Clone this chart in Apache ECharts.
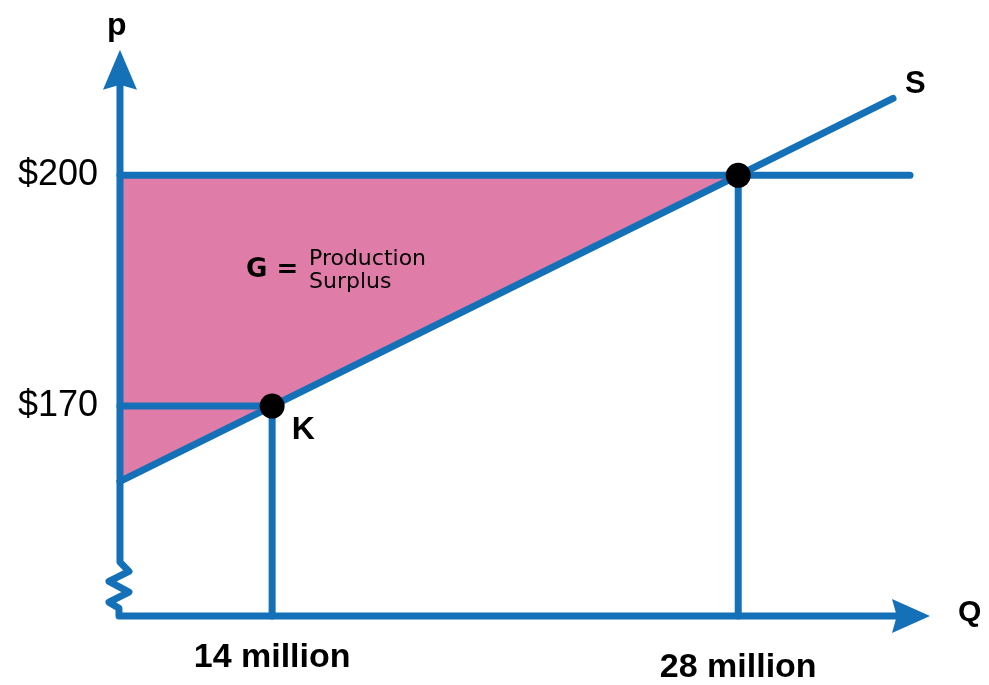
<!DOCTYPE html>
<html>
<head>
<meta charset="utf-8">
<script src="https://cdn.jsdelivr.net/npm/echarts@6/dist/echarts.min.js"></script>
<style>
  html, body { margin: 0; padding: 0; background: #fff; }
  #main { width: 989px; height: 685px; }
</style>
</head>
<body>
<div id="main"></div>
<script>
// axis ranges (Q in millions, p in dollars)
var qMin = 8.83, qMax = 33.76;
var pMin = 142.7, pMax = 216.3;

// tick labels
var qTickValues = [14, 28];
var qTickLabels = ['14 million', '28 million'];
var pTickValues = [170, 200];
var pTickLabels = ['$170', '$200'];

// supply curve S
var supplyQ = [9.43, 14, 28, 32.65];
var supplyP = [160.2, 170, 200, 210];

// producer surplus triangle G
var surplusQ = [9.43, 28, 9.43];
var surplusP = [200, 200, 160.2];

// price guide lines
var line200Q = [9.43, 33.16];
var line200P = [200, 200];
var line170Q = [9.43, 14];
var line170P = [170, 170];

// quantity drops
var drop14Q = [14, 14];
var drop14P = [170, 142.7];
var drop28Q = [28, 28];
var drop28P = [200, 142.7];

// marked points
var pointsQ = [14, 28];
var pointsP = [170, 200];
var pointNames = ['K', ''];

// axes drawn as one path with the break on p
var axisQ = [9.43, 9.43, 9.70, 9.10, 9.70, 9.10, 9.40, 9.40, 33.0];
var axisP = [213.0, 149.7, 148.5, 147.2, 145.8, 144.5, 143.7, 142.7, 142.7];

// arrow heads
var arrowQ = [9.43, 33.19];
var arrowP = [213.74, 142.7];
var arrowRotate = [0, -90];

var blue = '#1471b8';
var pink = '#e07ca8';

function pairs(xs, ys) {
    var out = [];
    for (var i = 0; i < xs.length; i++) out.push([xs[i], ys[i]]);
    return out;
}

function guide(xs, ys) {
    return {
        type: 'line',
        data: pairs(xs, ys),
        showSymbol: false,
        symbol: 'none',
        silent: true,
        clip: false,
        z: 3,
        lineStyle: { color: blue, width: 7, cap: 'round' }
    };
}

var chart = echarts.init(document.getElementById('main'), null, { renderer: 'canvas' });

var option = {
    animation: false,
    backgroundColor: '#fff',
    grid: { left: 100, right: 59, top: 50, bottom: 68 },
    xAxis: {
        type: 'value',
        min: qMin,
        max: qMax,
        axisLine: { show: false },
        axisTick: { show: false },
        splitLine: { show: false },
        axisLabel: {
            customValues: qTickValues,
            margin: 25,
            formatter: function (v) {
                var i = qTickValues.indexOf(v);
                return i === 0 ? '{a|' + qTickLabels[i] + '}' : '{b|' + qTickLabels[i] + '}';
            },
            rich: {
                a: { fontFamily: 'Liberation Sans', fontWeight: 'bold', fontSize: 34, color: '#000' },
                b: { fontFamily: 'Liberation Sans', fontWeight: 'bold', fontSize: 34, color: '#000', padding: [10, 0, 0, 0] }
            }
        }
    },
    yAxis: {
        type: 'value',
        min: pMin,
        max: pMax,
        axisLine: { show: false },
        axisTick: { show: false },
        splitLine: { show: false },
        axisLabel: {
            customValues: pTickValues,
            margin: 2,
            fontFamily: 'Liberation Sans',
            fontSize: 36,
            color: '#000',
            formatter: function (v) {
                return pTickLabels[pTickValues.indexOf(v)];
            }
        }
    },
    graphic: [
        { type: 'text', z: 100, left: 107, top: 10, style: { text: 'p', font: 'bold 32px "Liberation Sans"', fill: '#000' } },
        { type: 'text', z: 100, left: 958, top: 598, style: { text: 'Q', font: 'bold 30px "Liberation Sans"', fill: '#000' } },
        { type: 'text', z: 100, left: 246, top: 257, style: { text: 'G =', font: 'bold 26px "DejaVu Sans"', fill: '#000' } },
        { type: 'text', z: 100, left: 309, top: 248, style: { text: 'Production\nSurplus', font: '22px "DejaVu Sans"', lineHeight: 23, fill: '#000' } }
    ],
    series: [
        {
            type: 'custom',
            silent: true,
            z: 1,
            data: pairs(surplusQ, surplusP),
            renderItem: function (params, api) {
                if (params.dataIndex !== 0) return null;
                var pts = [];
                for (var i = 0; i < surplusQ.length; i++) pts.push(api.coord([surplusQ[i], surplusP[i]]));
                return { type: 'polygon', shape: { points: pts }, style: { fill: pink } };
            }
        },
        guide(line200Q, line200P),
        guide(line170Q, line170P),
        guide(drop14Q, drop14P),
        guide(drop28Q, drop28P),
        {
            type: 'line',
            data: pairs(supplyQ, supplyP),
            showSymbol: false,
            symbol: 'none',
            clip: false,
            z: 4,
            lineStyle: { color: blue, width: 7, cap: 'round' },
            endLabel: {
                show: true,
                formatter: 'S',
                offset: [4, -14],
                fontFamily: 'Liberation Sans',
                fontWeight: 'bold',
                fontSize: 31,
                color: '#000'
            }
        },
        {
            type: 'line',
            data: pairs(axisQ, axisP),
            showSymbol: false,
            symbol: 'none',
            clip: false,
            z: 5,
            lineStyle: { color: blue, width: 7, join: 'round' }
        },
        {
            type: 'scatter',
            clip: false,
            z: 6,
            symbol: 'path://M17,0 L34,40 L17,35 L0,40 Z',
            data: arrowQ.map(function (q, i) {
                return {
                    value: [q, arrowP[i]],
                    symbolRotate: arrowRotate[i],
                    symbolSize: i === 0 ? [34, 40] : [34, 38]
                };
            }),
            itemStyle: { color: blue, opacity: 1 }
        },
        {
            type: 'scatter',
            clip: false,
            z: 7,
            symbolSize: 25,
            itemStyle: { color: '#000', opacity: 1 },
            data: pointsQ.map(function (q, i) {
                return { value: [q, pointsP[i]], name: pointNames[i] };
            }),
            label: {
                show: true,
                position: 'right',
                offset: [2, 24],
                formatter: '{b}',
                fontFamily: 'Liberation Sans',
                fontWeight: 'bold',
                fontSize: 32,
                color: '#000'
            }
        }
    ]
};

chart.setOption(option);
</script>
</body>
</html>
